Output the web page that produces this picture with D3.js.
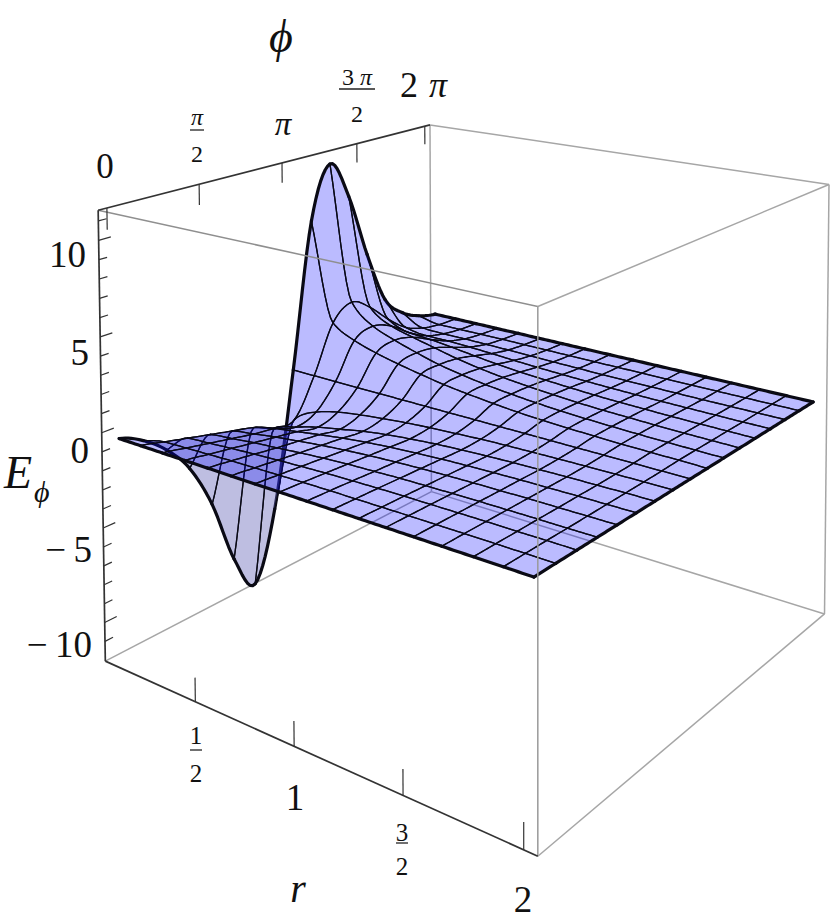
<!DOCTYPE html>
<html><head><meta charset="utf-8">
<style>html,body{margin:0;padding:0;background:#fff}svg{display:block}text{font-family:"Liberation Serif",serif;fill:#111}</style>
<script src="https://cdnjs.cloudflare.com/ajax/libs/d3/7.8.5/d3.min.js"></script>
</head><body><svg id="c" width="830" height="923"></svg>
<script>
// ---------- data ----------
const rValues = [0.10,0.22,0.34,0.46,0.58,0.70,0.82,0.94,1.07,1.19,1.31,1.43,1.55,1.67,1.80,1.92,2.04];
const phiValues = [0,0.393,0.785,1.178,1.571,1.963,2.356,2.749,3.142,3.534,3.927,4.320,4.712,5.105,5.498,5.890,6.283];
// Ez[r index][phi index]
const Ez = [
[0,-0.6,-1.6,-3.1,-5.6,-9.2,-11.2,-7.5,0,8.2,11.2,9.0,5.2,2.1,0.9,0.3,0],
[0,-0.3,-0.6,-0.9,-1.2,-1.5,-2.0,-2.0,0,2.6,3.4,2.7,1.6,0.7,0.25,0.05,0],
[0,-0.25,-0.5,-0.75,-1.0,-1.2,-1.6,-1.25,0,1.9,2.3,1.9,1.1,0.5,0.2,0.05,0],
[0,-0.2,-0.4,-0.6,-0.8,-1.0,-1.25,-0.9,0,1.5,1.8,1.55,1.0,0.5,0.2,0.06,0],
[0,-0.15,-0.32,-0.5,-0.65,-0.8,-1.0,-0.7,0,1.2,1.4,1.25,0.85,0.45,0.18,0.06,0],
[0,-0.12,-0.25,-0.38,-0.5,-0.62,-0.75,-0.55,0,0.95,1.05,0.95,0.68,0.38,0.16,0.05,0],
[0,-0.09,-0.18,-0.28,-0.38,-0.47,-0.56,-0.42,0,0.72,0.8,0.72,0.52,0.3,0.13,0.04,0],
[0,-0.06,-0.13,-0.2,-0.28,-0.35,-0.42,-0.32,0,0.55,0.6,0.54,0.4,0.23,0.1,0.03,0],
[0,-0.04,-0.09,-0.15,-0.2,-0.26,-0.3,-0.24,0,0.4,0.44,0.4,0.3,0.17,0.07,0.02,0],
[0,-0.03,-0.06,-0.1,-0.14,-0.18,-0.22,-0.17,0,0.28,0.32,0.29,0.22,0.12,0.05,0.02,0],
[0,-0.02,-0.04,-0.07,-0.1,-0.13,-0.16,-0.12,0,0.2,0.23,0.2,0.15,0.08,0.03,0.01,0],
[0,-0.01,-0.03,-0.05,-0.07,-0.09,-0.11,-0.09,0,0.14,0.16,0.14,0.1,0.05,0.02,0,0],
[0,-0.01,-0.02,-0.03,-0.05,-0.06,-0.08,-0.06,0,0.1,0.11,0.1,0.07,0.03,0.01,0,0],
[0,0,-0.01,-0.02,-0.03,-0.04,-0.05,-0.04,0,0.06,0.07,0.06,0.04,0.02,0,0,0],
[0,0,-0.01,-0.01,-0.02,-0.02,-0.03,-0.02,0,0.04,0.04,0.03,0.02,0.01,0,0,0],
[0,0,0,-0.01,-0.01,-0.01,-0.01,-0.01,0,0.02,0.02,0.01,0.01,0,0,0,0],
[0,0,0,0,0,0,0,0,0,0,0,0,0,0,0,0,0]
];
const zTicks = [-11,-10,-9,-8,-7,-6,-5,-4,-3,-2,-1,0,1,2,3,4,5,6,7,8,9,10,11];
const zLabels = ["10","5","0","\u2212\u20095","\u2212\u200910"];
const rTicks = [0.5,1,1.5,2];
const phiTicks = [0,Math.PI/2,Math.PI,3*Math.PI/2,2*Math.PI];

// ---------- projective camera fitted to the box corners ----------
const boxCorners = [
 [0,0,1,98,210],[0,1,1,430,125],[1,1,1,829,185],[1,0,1,538,306],
 [0,0,0,106,662],[1,0,0,537,856],[1,1,0,825,614],[0,1,0,431,491]];
function fitCamera(pts){
  const rows=[],rhs=[];
  pts.forEach(([u,v,w,x,y])=>{
    rows.push([u,v,w,1,0,0,0,0,-x*u,-x*v,-x*w]);rhs.push(x);
    rows.push([0,0,0,0,u,v,w,1,-y*u,-y*v,-y*w]);rhs.push(y);
  });
  const n=11,A=d3.range(n).map(i=>d3.range(n+1).map(j=>{
    let s=0;rows.forEach((r,k)=>{s+=r[i]*(j<n?r[j]:rhs[k]);});return s;}));
  for(let c=0;c<n;c++){
    let p=c;for(let i=c+1;i<n;i++)if(Math.abs(A[i][c])>Math.abs(A[p][c]))p=i;
    [A[c],A[p]]=[A[p],A[c]];
    for(let i=0;i<n;i++)if(i!==c){const f=A[i][c]/A[c][c];for(let j=c;j<=n;j++)A[i][j]-=f*A[c][j];}
  }
  return A.map((r,i)=>r[n]/r[i]);
}
const H=fitCamera(boxCorners);
function depth(u,v,w){return H[8]*u+H[9]*v+H[10]*w+1;}
function project(u,v,w){const d=depth(u,v,w);
  return [(H[0]*u+H[1]*v+H[2]*w+H[3])/d,(H[4]*u+H[5]*v+H[6]*w+H[7])/d];}

// ---------- scales ----------
const rScale=d3.scaleLinear().domain([0,2.055]).range([0,1]);
const phiTickScale=d3.scaleLinear().domain([-0.14,6.41]).range([0,1]);
const phiScale=d3.scaleLinear().domain([0,2*Math.PI]).range([0,0.955]);
const zScale=d3.scaleLinear().domain([-12.05,11.55]).range([0,1]);

// ---------- 1-D smoothing of the mesh curves ----------
const STEPS=8;
function catmull(vals,i,t){
  const g=k=>vals[Math.max(0,Math.min(vals.length-1,k))];
  const a=g(i-1),b=g(i),c=g(i+1),d=g(i+2);
  return 0.5*((2*b)+(c-a)*t+(2*a-5*b+4*c-d)*t*t+(3*b-a-3*c+d)*t*t*t);
}
function monotone(vals,i,t){
  const g=k=>vals[Math.max(0,Math.min(vals.length-1,k))];
  const tan=k=>{const l=g(k)-g(k-1),r=g(k+1)-g(k);
    if(l*r<=0)return k<=0||k>=vals.length-1?(k<=0?r:l):0;
    return 2*l*r/(l+r);};
  const b=g(i),c=g(i+1),m0=tan(i),m1=tan(i+1),t2=t*t,t3=t2*t;
  return (2*t3-3*t2+1)*b+(t3-2*t2+t)*m0+(-2*t3+3*t2)*c+(t3-t2)*m1;
}
const rAt=a=>{const i=Math.min(15,Math.floor(a));return rValues[i]+(rValues[i+1]-rValues[i])*(a-i);};
const phiAt=b=>{const j=Math.min(15,Math.floor(b));return phiValues[j]+(phiValues[j+1]-phiValues[j])*(b-j);};
const P=(a,b,z)=>project(rScale(rAt(a)),phiScale(phiAt(b)),zScale(z));
function edgePhi(i,j){return d3.range(STEPS+1).map(k=>{const t=k/STEPS;return P(i,j+t,catmull(Ez[i],j,t));});}
function edgeR(i,j){const col=Ez.map(r=>r[j]);
  return d3.range(STEPS+1).map(k=>{const t=k/STEPS;return P(i+t,j,monotone(col,i,t));});}

// ---------- drawing ----------
const svg=d3.select("#c");
const line=d3.line();
const BOX_GREY="#a6a6a6",AX="#333";
function boxLine(g,a,b,col,w){const p=project(...a),q=project(...b);
  g.append("path").attr("d",line([p,q])).attr("stroke",col).attr("stroke-width",w).attr("fill","none");}

const back=svg.append("g");
boxLine(back,[0,1,1],[1,1,1],BOX_GREY,1.5);
boxLine(back,[0,1,1],[0,1,0],BOX_GREY,1.5);
boxLine(back,[0,1,0],[1,1,0],BOX_GREY,1.5);
boxLine(back,[0,0,0],[0,1,0],BOX_GREY,1.5);
boxLine(back,[1,1,1],[1,1,0],BOX_GREY,1.5);

const cells=[];
for(let i=0;i<16;i++)for(let j=0;j<16;j++){
  const zm=(Ez[i][j]+Ez[i+1][j]+Ez[i][j+1]+Ez[i+1][j+1])/4;
  const d=depth(rScale(rAt(i+.5)),phiScale(phiAt(j+.5)),zScale(zm));
  cells.push({i,j,d});
}
cells.sort((a,b)=>b.d-a.d);
const surf=svg.append("g");
cells.forEach(({i,j})=>{
  const e1=edgeR(i,j),e2=edgePhi(i+1,j),e3=edgeR(i,j+1).reverse(),e4=edgePhi(i,j).reverse();
  const poly=[...e1,...e2.slice(1),...e3.slice(1),...e4.slice(1)];
  const corners=[e1[0],e1[STEPS],e3[0],e3[STEPS]];
  const top=d3.polygonArea(corners)>0;
  surf.append("path").attr("d",line(poly)+"Z")
    .attr("fill",top?"#0000ff":"#5c5cb4").attr("fill-opacity",top?0.265:0.4).attr("stroke","none");
  const edge=(pts,thick)=>surf.append("path").attr("d",line(pts)).attr("fill","none")
    .attr("stroke","#0a0a14").attr("stroke-width",thick?3.2:1.3).attr("stroke-linejoin","round").attr("stroke-linecap","round");
  edge(e1,j===0);edge(e2,i===15);edge(e3,j===15);edge(e4,i===0);
});

const front=svg.append("g");
boxLine(front,[0,0,1],[1,0,1],"#8f8f8f",1.5);
boxLine(front,[1,0,1],[1,1,1],BOX_GREY,1.5);
boxLine(front,[1,0,1],[1,0,0],"#999",1.5);
boxLine(front,[1,0,0],[1,1,0],BOX_GREY,1.5);
boxLine(front,[0,0,1],[0,1,1],AX,1.7);
boxLine(front,[0,0,1],[0,0,0],AX,1.7);
boxLine(front,[0,0,0],[1,0,0],AX,1.7);

zTicks.forEach(z=>{const maj=z%5===0;
  boxLine(front,[0,0,zScale(z)],[0,maj?0.03:0.02,zScale(z)],AX,1.2);});
rTicks.forEach(r=>{const u=rScale(r);boxLine(front,[u,0,0],[u,0,0.052],AX,1.2);});
phiTicks.forEach(p=>{const v=phiTickScale(p);boxLine(front,[0,v,1],[0,v,0.952],AX,1.2);});

function txt(x,y,s,size,opts={}){
  return svg.append("text").attr("x",x).attr("y",y).attr("font-size",size)
    .attr("text-anchor",opts.anchor||"middle").attr("font-style",opts.italic?"italic":"normal").text(s);}
function frac(x,top,bot,ytop,ybar,ybot,size,halfw){
  const t=txt(x,ytop,"",size);
  top.forEach(([s,it])=>t.append("tspan").attr("font-style",it?"italic":"normal").text(s));
  txt(x,ybot,bot,size);
  svg.append("path").attr("d",line([[x-halfw,ybar],[x+halfw,ybar]])).attr("stroke","#222").attr("stroke-width",1.3);}
const zLabelRight=[86,89,89,92,92], zLabelBase=[267,365,463,562,657];
zLabels.forEach((s,k)=>txt(zLabelRight[k],zLabelBase[k],s,37,{anchor:"end"}));
txt(105,178,"0",35);
frac(197,[["\u03c0",true]],"2",125,130,162,24,7);
txt(283,135,"\u03c0",33,{italic:true});
frac(357,[["3 ",false],["\u03c0",true]],"2",85,89,122,24,18);
txt(400,97,"2",36,{anchor:"start"});
txt(429,97,"\u03c0",36,{anchor:"start",italic:true});
frac(196,[["1",false]],"2",744,750,782,25,6);
txt(295,810,"1",37);
frac(402,[["3",false]],"2",841,843,875,25,6);
txt(523,912,"2",37);
txt(281,52,"\u03d5",46,{italic:true});
txt(298,902,"r",40,{italic:true});
txt(4,488,"E",46,{anchor:"start",italic:true});
txt(34,502,"\u03d5",30,{anchor:"start",italic:true});
</script></body></html>
